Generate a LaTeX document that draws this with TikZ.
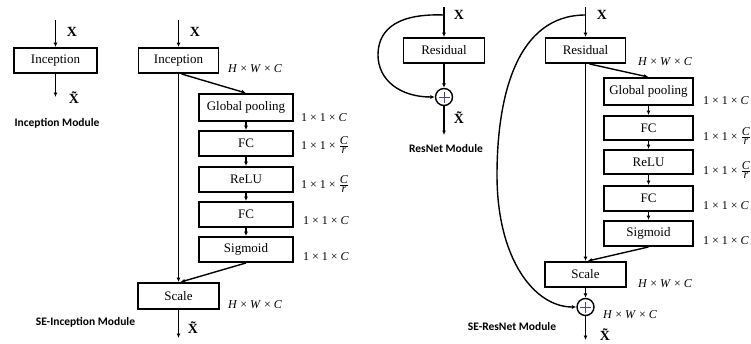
\documentclass[tikz,border=0pt]{standalone}
\usepackage{fontspec}
\setmainfont{Liberation Serif}
\newfontfamily\serfont{Liberation Serif}
\newfontfamily\modfont{Carlito}
\usetikzlibrary{arrows.meta}
\definecolor{plusc}{RGB}{80,70,120}
\newcommand{\fr}{$\frac{\hbox{\serfont\itshape C}}{\hbox{\serfont\itshape r}}$}
\begin{document}
\begin{tikzpicture}[x=1pt,y=-1pt,
  box/.style={draw, line width=1.9pt, inner sep=0pt, font=\serfont\fontsize{13}{15}\selectfont},
  lbl/.style={anchor=west, font=\serfont\fontsize{12}{14}\selectfont, inner sep=0pt},
  xl/.style={font=\serfont\fontsize{14}{16}\selectfont\bfseries, inner sep=0pt},
  modl/.style={font=\modfont\bfseries\fontsize{11.5}{13}\selectfont, inner sep=0pt},
  arr/.style={line width=1.4pt, -{Latex[length=4.5pt,width=4pt]}},
  sumc/.style={draw, circle, line width=1.4pt, minimum size=17pt, inner sep=0pt,
    path picture={\draw[plusc, line width=0.6pt]
      ([xshift=-5.5pt]path picture bounding box.center) -- ([xshift=5.5pt]path picture bounding box.center)
      ([yshift=-5.5pt]path picture bounding box.center) -- ([yshift=5.5pt]path picture bounding box.center);}}]
\useasboundingbox (0,0) rectangle (751,343);

% ---------- Inception module ----------
\node[box, minimum width=83pt, minimum height=25pt] (inc1) at (55.5,60.5) {Inception};
\coordinate (in1) at (55.5,20);
\coordinate (out1) at (55.5,97);
\draw[arr] (in1) -- (inc1.north);
\draw[arr] (inc1.south) -- (out1);
\node[xl] (x1) at (72,32) {X};
\node[xl] (xt1) at (74,98) {\~{X}};
\node[modl] (m1) at (57,123) {Inception Module};

% ---------- SE-Inception module ----------
\node[box, minimum width=80pt, minimum height=25pt] (inc2) at (178.5,60.5) {Inception};
\coordinate (in2) at (178.5,20);
\node[xl] (x2) at (195,32) {X};
\node[lbl] (l21) at (228,69) {\textit{H} × \textit{W} × \textit{C}};
\node[box, minimum width=94pt, minimum height=27pt] (gp1) at (246,107.5) {Global pooling};
\node[box, minimum width=94pt, minimum height=25pt] (fc1) at (246,143.5) {FC};
\node[box, minimum width=94pt, minimum height=25pt] (relu1) at (246,179.5) {ReLU};
\node[box, minimum width=94pt, minimum height=25pt] (fc1b) at (246,214.5) {FC};
\node[box, minimum width=94pt, minimum height=25pt] (sig1) at (246,249.5) {Sigmoid};
\node[box, minimum width=81pt, minimum height=26pt] (sc1) at (178.5,296) {Scale};
\node[lbl] (l22) at (301,118) {1 × 1 × \textit{C}};
\node[lbl] (l23) at (301,145) {1 × 1 × \fr};
\node[lbl] (l24) at (301,184) {1 × 1 × \fr};
\node[lbl] (l25) at (303,221) {1 × 1 × \textit{C}};
\node[lbl] (l26) at (303,257) {1 × 1 × \textit{C}};
\node[lbl] (l27) at (228,305) {\textit{H} × \textit{W} × \textit{C}};
\coordinate (out2) at (178.5,338);
\node[xl] (xt2) at (193,328) {\~{X}};
\node[modl] (m2) at (85.5,322) {SE-Inception Module};
\draw[arr] (in2) -- (inc2.north);
\draw[arr] (inc2.south) -- (sc1.north);
\draw[arr] ([xshift=3pt]inc2.south) -- (gp1.north);
\draw[arr] (gp1.south) -- (fc1.north);
\draw[arr] (fc1.south) -- (relu1.north);
\draw[arr] (relu1.south) -- (fc1b.north);
\draw[arr] (fc1b.south) -- (sig1.north);
\draw[arr] (sig1.south) -- ([xshift=2pt]sc1.north);
\draw[arr] (sc1.south) -- (out2);

% ---------- ResNet module ----------
\node[box, minimum width=81pt, minimum height=25pt] (res1) at (444,50.5) {Residual};
\node[sumc] (sum1) at (444,97) {};
\coordinate (in3) at (444,7);
\coordinate (c3) at (444,15);
\coordinate (out3) at (444,135);
\node[xl] (x3) at (459,15) {X};
\node[xl] (xt3) at (459,118) {\~{X}};
\node[modl] (m3) at (446,149) {ResNet Module};
\draw[arr] (in3) -- (res1.north);
\draw[arr] (res1.south) -- (sum1.north);
\draw[arr] (sum1.south) -- (out3);
\draw[arr] (c3) .. controls (390,13) and (378,35) .. (378,55) .. controls (378,80) and (400,97) .. (sum1.west);

% ---------- SE-ResNet module ----------
\node[box, minimum width=80pt, minimum height=25pt] (res2) at (585.5,50.5) {Residual};
\coordinate (in4) at (585.5,7);
\coordinate (c4) at (585.5,15);
\node[xl] (x4) at (602,15) {X};
\node[lbl] (l41) at (638,62) {\textit{H} × \textit{W} × \textit{C}};
\node[box, minimum width=89pt, minimum height=27pt] (gp2) at (648.5,91.5) {Global pooling};
\node[box, minimum width=89pt, minimum height=24pt] (fc2) at (648.5,128) {FC};
\node[box, minimum width=89pt, minimum height=24pt] (relu2) at (648.5,162) {ReLU};
\node[box, minimum width=89pt, minimum height=25pt] (fc2b) at (648.5,198.5) {FC};
\node[box, minimum width=89pt, minimum height=25pt] (sig2) at (648.5,233.5) {Sigmoid};
\node[box, minimum width=81pt, minimum height=25pt] (sc2) at (585.5,274.5) {Scale};
\node[sumc] (sum2) at (585.5,307) {};
\coordinate (out4) at (585.5,340);
\node[lbl] (l42) at (703,101) {1 × 1 × \textit{C}};
\node[lbl] (l43) at (703,136) {1 × 1 × \fr};
\node[lbl] (l44) at (703,170) {1 × 1 × \fr};
\node[lbl] (l45) at (703,206) {1 × 1 × \textit{C}};
\node[lbl] (l46) at (703,241) {1 × 1 × \textit{C}};
\node[lbl] (l47) at (638,284) {\textit{H} × \textit{W} × \textit{C}};
\node[lbl] (l48) at (603,315) {\textit{H} × \textit{W} × \textit{C}};
\node[xl] (xt4) at (605,335) {\~{X}};
\node[modl] (m4) at (512,327) {SE-ResNet Module};
\draw[arr] (in4) -- (res2.north);
\draw[arr] (res2.south) -- (sc2.north);
\draw[arr] ([xshift=4pt]res2.south) -- (gp2.north);
\draw[arr] (gp2.south) -- (fc2.north);
\draw[arr] (fc2.south) -- (relu2.north);
\draw[arr] (relu2.south) -- (fc2b.north);
\draw[arr] (fc2b.south) -- (sig2.north);
\draw[arr] (sig2.south) -- ([xshift=2pt]sc2.north);
\draw[arr] (sc2.south) -- (sum2.north);
\draw[arr] (sum2.south) -- (out4);
\draw[arr] (c4) .. controls (515,15) and (497,100) .. (497,175) .. controls (497,260) and (535,307) .. (sum2.west);
\end{tikzpicture}
\end{document}
